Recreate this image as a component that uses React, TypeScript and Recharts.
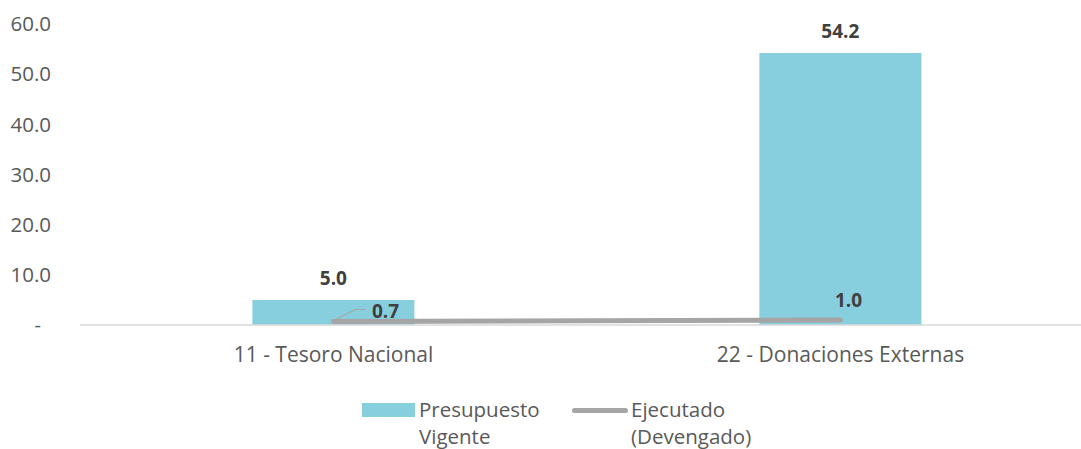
import React from "react";
import { ComposedChart, Bar, Line, XAxis, YAxis, LabelList, Legend } from "recharts";

const categories = ["11 - Tesoro Nacional", "22 - Donaciones Externas"];
const presupuesto = [5.0, 54.2];
const ejecutado = [0.7, 1.0];
const yTicks = [0, 10, 20, 30, 40, 50, 60];
const seriesNames = ["Presupuesto Vigente", "Ejecutado (Devengado)"];

const data = categories.map((c, i) => ({ name: c, presupuesto: presupuesto[i], ejecutado: ejecutado[i] }));

const FONT = "'Open Sans', sans-serif";
const BAR_COLOR = "#87CEDE";
const LINE_COLOR = "#A5A5A5";
const TEXT = "#595959";
const LABEL = "#404040";

const YTick = (props: any) => {
  const { y, payload } = props;
  const v = payload.value;
  if (v === 0) {
    return (
      <text x={41} y={y} dy="0.35em" textAnchor="end" fontSize={20} fill={TEXT} fontFamily={FONT}>-</text>
    );
  }
  return (
    <text x={51} y={y} dy="0.35em" textAnchor="end" fontSize={20.5} fill={TEXT} fontFamily={FONT}>
      {v.toFixed(1)}
    </text>
  );
};

const BarLabel = (props: any) => {
  const { x, y, width, value } = props;
  return (
    <text x={x + width / 2} y={y - 22} textAnchor="middle" dy="0.35em" fontSize={19} fontWeight={700} fill={LABEL} fontFamily={FONT}>
      {Number(value).toFixed(1)}
    </text>
  );
};

const LineLabel = (props: any) => {
  const { x, y, value, index } = props;
  if (index === 0) {
    return (
      <g>
        <polyline points={`${x},${y - 1} ${x + 22},${y - 12} ${x + 32},${y - 12}`} fill="none" stroke={LINE_COLOR} strokeWidth={1.2} />
        <text x={x + 52} y={y - 10} textAnchor="middle" dy="0.35em" fontSize={19} fontWeight={700} fill={LABEL} fontFamily={FONT}>
          {Number(value).toFixed(1)}
        </text>
      </g>
    );
  }
  return (
    <text x={x + 8} y={y - 20} textAnchor="middle" dy="0.35em" fontSize={19} fontWeight={700} fill={LABEL} fontFamily={FONT}>
      {Number(value).toFixed(1)}
    </text>
  );
};

const LegendContent = () => {
  const [p1, p2] = seriesNames[0].split(" ");
  const [e1, e2] = seriesNames[1].split(" ");
  const txt: React.CSSProperties = { fontFamily: FONT, fontSize: 20.5, color: TEXT, lineHeight: "27px", whiteSpace: "nowrap" };
  return (
    <div style={{ position: "relative", width: 1081, height: 51 }}>
      <div style={{ position: "absolute", left: 362, top: 5, width: 53, height: 14, background: BAR_COLOR }} />
      <div style={{ position: "absolute", left: 419, top: -2, ...txt }}>{p1}<br />{p2}</div>
      <div style={{ position: "absolute", left: 572, top: 10, width: 56, height: 5, borderRadius: 3, background: LINE_COLOR }} />
      <div style={{ position: "absolute", left: 631, top: -2, ...txt }}>{e1}<br />{e2}</div>
    </div>
  );
};

export default function App() {
  return (
    <div style={{ position: "fixed", left: 0, top: 0, width: 1081, height: 449, overflow: "hidden", background: "#fff" }}>
      <ComposedChart
        width={1094}
        height={449}
        data={data}
        margin={{ top: 24, right: 0, bottom: 0, left: 0 }}
        barCategoryGap="34%"
      >
        <XAxis
          dataKey="name"
          axisLine={{ stroke: "#D9D9D9", strokeWidth: 1.5 }}
          tickLine={false}
          height={73}
          tickMargin={16}
          tick={{ fontSize: 21, fill: TEXT, fontFamily: FONT } as any}
        />
        <YAxis
          domain={[0, 60]}
          ticks={yTicks}
          axisLine={false}
          tickLine={false}
          width={80}
          tick={<YTick />}
        />
        <Legend
          content={<LegendContent />}
          wrapperStyle={{ position: "absolute", top: 398, left: 0, width: 1081, height: 51 }}
        />
        <Bar dataKey="presupuesto" name={seriesNames[0]} fill={BAR_COLOR} isAnimationActive={false}>
          <LabelList dataKey="presupuesto" content={<BarLabel />} />
        </Bar>
        <Line
          dataKey="ejecutado"
          name={seriesNames[1]}
          type="linear"
          stroke={LINE_COLOR}
          strokeWidth={5}
          strokeLinecap="round"
          dot={false}
          activeDot={false}
          isAnimationActive={false}
        >
          <LabelList dataKey="ejecutado" content={<LineLabel />} />
        </Line>
      </ComposedChart>
    </div>
  );
}
